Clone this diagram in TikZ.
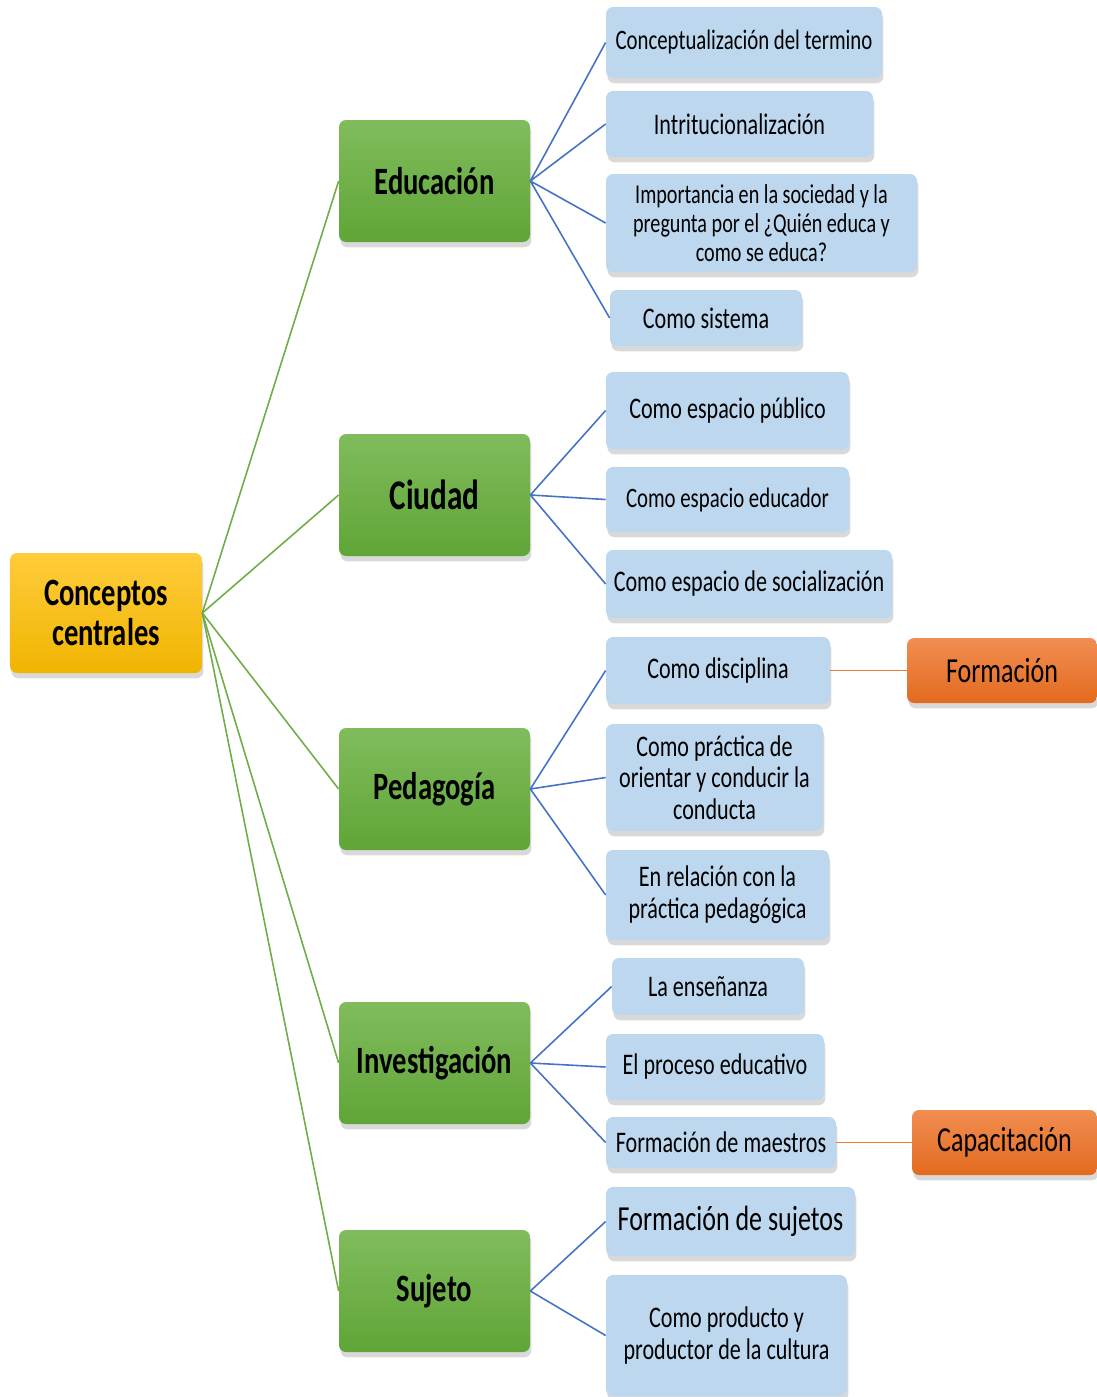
\documentclass[tikz,border=0pt]{standalone}
\usepackage{fontspec}
\setmainfont{Carlito}[FakeStretch=0.74]
\usetikzlibrary{shadows}
\definecolor{rootY}{RGB}{255,205, 60}
\definecolor{rootYd}{RGB}{240,180,  0}
\definecolor{topG}{RGB}{128,188, 92}
\definecolor{topGd}{RGB}{ 96,165, 55}
\definecolor{leafB}{RGB}{189,215,238}
\definecolor{extO}{RGB}{242,142, 82}
\definecolor{extOd}{RGB}{226,106, 30}
\definecolor{lnG}{RGB}{112,173, 71}
\definecolor{lnB}{RGB}{ 68,114,196}
\definecolor{lnO}{RGB}{237,125, 49}

\begin{document}
\begin{tikzpicture}[
  box/.style={rounded corners=4pt, inner sep=2pt, align=center,
              drop shadow={shadow xshift=0.8pt, shadow yshift=-3pt, opacity=0.3}},
  root/.style={box, top color=rootY, bottom color=rootYd,
               minimum width=3.84cm, minimum height=2.4cm,
               font=\fontsize{22}{22}\selectfont\bfseries},
  topic/.style={box, top color=topG, bottom color=topGd,
                minimum width=3.82cm, minimum height=2.44cm,
                font=\fontsize{22}{22}\selectfont\bfseries},
  leaf/.style={box, fill=leafB, font=\fontsize{17}{18}\selectfont},
  ext/.style={box, top color=extO, bottom color=extOd,
              minimum width=3.8cm, minimum height=1.3cm,
              font=\fontsize{20}{20}\selectfont},
  gl/.style={draw=lnG, line width=0.9pt},
  bl/.style={draw=lnB, line width=0.9pt},
  ol/.style={draw=lnO, line width=0.9pt},
]
\useasboundingbox (0,0) rectangle (21.94,-27.94);

% ============ root ============
\node[root] (cc) at (2.12,-12.26) {Conceptos\\[1pt]centrales};

% ============ main topics ============
\node[topic] (edu) at (8.69,-3.62) {Educación};
\node[topic, font=\fontsize{24}{24}\selectfont\bfseries] (ciu) at (8.69,-9.90) {Ciudad};
\node[topic] (ped) at (8.69,-15.78) {Pedagogía};
\node[topic] (inv) at (8.69,-21.26) {Investigación};
\node[topic] (suj) at (8.69,-25.82) {Sujeto};

\foreach \t in {edu,ciu,ped,inv,suj}
  \draw[gl] (cc.east) -- (\t.west);

% ============ Educación ============
\node[leaf, minimum width=5.52cm, minimum height=1.42cm, font=\fontsize{16}{17}\selectfont]
  (e1) at (14.88,-0.85) {Conceptualización del termino};
\node[leaf, minimum width=5.34cm, minimum height=1.32cm] (e2) at (14.79,-2.48) {Intritucionalización};
\node[leaf, minimum width=6.22cm, minimum height=1.96cm, font=\fontsize{15.5}{16.5}\selectfont]
  (e3) at (15.23,-4.46) {Importancia en la sociedad y la\\pregunta por el ¿Quién educa y\\como se educa?};
\node[leaf, minimum width=3.84cm, minimum height=1.12cm] (e4) at (14.12,-6.36) {Como sistema};

% ============ Ciudad ============
\node[leaf, minimum width=4.86cm, minimum height=1.54cm] (c1) at (14.55,-8.21) {Como espacio público};
\node[leaf, minimum width=4.86cm, minimum height=1.30cm, font=\fontsize{16}{17}\selectfont]
  (c2) at (14.55,-9.99) {Como espacio educador};
\node[leaf, minimum width=5.72cm, minimum height=1.36cm] (c3) at (14.98,-11.68) {Como espacio de socialización};

% ============ Pedagogía ============
\node[leaf, minimum width=4.48cm, minimum height=1.34cm] (p1) at (14.36,-13.41) {Como disciplina};
\node[leaf, minimum width=4.34cm, minimum height=2.14cm] (p2) at (14.29,-15.55)
  {Como práctica de\\orientar y conducir la\\conducta};
\node[leaf, minimum width=4.46cm, minimum height=1.80cm] (p3) at (14.35,-17.90)
  {En relación con la\\práctica pedagógica};

% ============ Investigación ============
\node[leaf, minimum width=3.84cm, minimum height=1.14cm] (i1) at (14.16,-19.73) {La enseñanza};
\node[leaf, minimum width=4.36cm, minimum height=1.32cm] (i2) at (14.30,-21.34) {El proceso educativo};
\node[leaf, minimum width=4.60cm, minimum height=1.02cm] (i3) at (14.42,-22.85) {Formación de maestros};

% ============ Sujeto ============
\node[leaf, minimum width=4.98cm, minimum height=1.38cm, font=\fontsize{20}{20}\selectfont]
  (s1) at (14.61,-24.43) {Formación de sujetos};
\node[leaf, minimum width=4.82cm, minimum height=2.42cm] (s2) at (14.53,-26.71)
  {Como producto y\\productor de la cultura};

\draw[bl] (edu.east) -- (e1.west) (edu.east) -- (e2.west)
          (edu.east) -- (e3.west) (edu.east) -- (e4.west);
\draw[bl] (ciu.east) -- (c1.west) (ciu.east) -- (c2.west) (ciu.east) -- (c3.west);
\draw[bl] (ped.east) -- (p1.west) (ped.east) -- (p2.west) (ped.east) -- (p3.west);
\draw[bl] (inv.east) -- (i1.west) (inv.east) -- (i2.west) (inv.east) -- (i3.west);
\draw[bl] (suj.east) -- (s1.west) (suj.east) -- (s2.west);

% ============ extra links ============
\node[ext] (for) at (20.04,-13.41) {Formación};
\node[ext, minimum width=3.7cm] (cap) at (20.09,-22.85) {Capacitación};

\draw[ol] (p1.east) -- (for.west);
\draw[ol] (i3.east) -- (cap.west);

\end{tikzpicture}
\end{document}
